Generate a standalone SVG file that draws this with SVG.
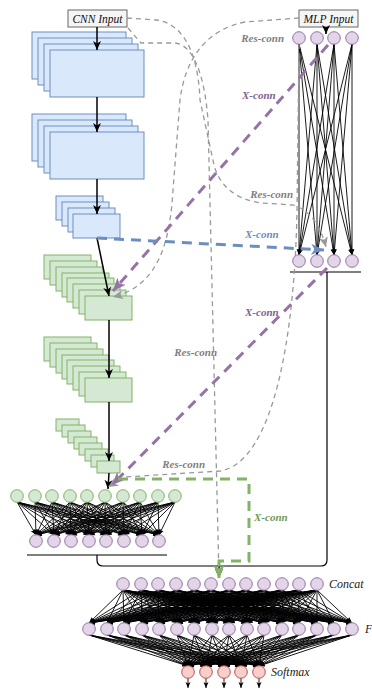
<svg xmlns="http://www.w3.org/2000/svg" width="372" height="689" viewBox="0 0 372 689">
<style>
.bl rect{fill:#dae8fc;stroke:#6c8ebf;stroke-width:1}
.gr rect{fill:#d5e8d4;stroke:#82b366;stroke-width:1}
.inp{fill:#f5f5f5;stroke:#666;stroke-width:1}
.it{font-family:"Liberation Serif",serif;font-style:italic;font-size:11.5px;fill:#111}
.ly{font-family:"Liberation Serif",serif;font-style:italic;font-size:12px;fill:#222}
.lb{font-family:"Liberation Serif",serif;font-style:italic;font-weight:bold;font-size:11px}
.pu circle{fill:#e1d5e7;stroke:#9673a6;stroke-width:1}
.gc circle{fill:#d5e8d4;stroke:#82b366;stroke-width:1}
.rd circle{fill:#f8cecc;stroke:#b85450;stroke-width:1}
.dn path{fill:none;stroke:#000;stroke-width:0.9;marker-end:url(#ms)}
.ar{fill:none;stroke:#000;stroke-width:1.5;marker-end:url(#mb)}
.gd{fill:none;stroke:#999;stroke-width:1.3;stroke-dasharray:5 4;marker-end:url(#mg)}
.px{fill:none;stroke:#9673a6;stroke-width:3;stroke-dasharray:10 7;marker-end:url(#mp)}
.bx{fill:none;stroke:#6c8ebf;stroke-width:3;stroke-dasharray:10 7;marker-end:url(#mbl)}
.gx{fill:none;stroke:#82b366;stroke-width:3;stroke-dasharray:10 7;marker-end:url(#mgr)}
.bus{fill:none;stroke:#000;stroke-width:1.2}
.ul{fill:none;stroke:#555;stroke-width:1.5}
</style>
<defs>
<marker id="ms" markerUnits="userSpaceOnUse" markerWidth="7" markerHeight="6" refX="6" refY="3" orient="auto"><path d="M0,0.5L6,3L0,5.5L1.5,3z" fill="#000" stroke="none"/></marker>
<marker id="mb" markerUnits="userSpaceOnUse" markerWidth="10" markerHeight="9" refX="9" refY="4.5" orient="auto"><path d="M0,0.5L9,4.5L0,8.5L2.5,4.5z" fill="#000" stroke="none"/></marker>
<marker id="mg" markerUnits="userSpaceOnUse" markerWidth="11" markerHeight="10" refX="10" refY="5" orient="auto"><path d="M0,0.5L10,5L0,9.5L2.5,5z" fill="#999" stroke="none"/></marker>
<marker id="mp" markerUnits="userSpaceOnUse" markerWidth="14" markerHeight="12" refX="13" refY="6" orient="auto"><path d="M0,0.5L13,6L0,11.5L3.5,6z" fill="#9673a6" stroke="none"/></marker>
<marker id="mbl" markerUnits="userSpaceOnUse" markerWidth="14" markerHeight="12" refX="13" refY="6" orient="auto"><path d="M0,0.5L13,6L0,11.5L3.5,6z" fill="#6c8ebf" stroke="none"/></marker>
<marker id="mgr" markerUnits="userSpaceOnUse" markerWidth="14" markerHeight="12" refX="13" refY="6" orient="auto"><path d="M0,0.5L13,6L0,11.5L3.5,6z" fill="#82b366" stroke="none"/></marker>
</defs>
<rect width="372" height="689" fill="#fff"/>

<g id="cnn-input"><rect class="inp" x="68" y="10" width="59" height="17"/><text class="it" x="97.5" y="22.5" text-anchor="middle">CNN Input</text></g>
<g id="mlp-input"><rect class="inp" x="299" y="10" width="59" height="17"/><text class="it" x="328.5" y="22.5" text-anchor="middle">MLP Input</text></g>

<g id="conv1" class="bl"><rect x="32" y="32" width="94" height="47"/><rect x="38" y="38" width="94" height="47"/><rect x="44" y="44" width="94" height="47"/><rect x="50" y="50" width="94" height="47"/></g>
<g id="conv2" class="bl"><rect x="32" y="114" width="94" height="47"/><rect x="38" y="120" width="94" height="47"/><rect x="44" y="126" width="94" height="47"/><rect x="50" y="132" width="94" height="47"/></g>
<g id="conv3" class="bl"><rect x="56" y="196" width="47" height="24"/><rect x="62" y="202" width="47" height="24"/><rect x="68" y="208" width="47" height="24"/><rect x="73" y="214" width="47" height="24"/></g>
<g id="conv4" class="gr"><rect x="44" y="255" width="47" height="24"/><rect x="50" y="261" width="47" height="24"/><rect x="56" y="267" width="47" height="24"/><rect x="62" y="273" width="47" height="24"/><rect x="67" y="278" width="47" height="24"/><rect x="73" y="284" width="47" height="24"/><rect x="79" y="290" width="47" height="24"/><rect x="85" y="296" width="47" height="24"/></g>
<g id="conv5" class="gr"><rect x="44" y="337" width="47" height="24"/><rect x="50" y="343" width="47" height="24"/><rect x="56" y="349" width="47" height="24"/><rect x="62" y="355" width="47" height="24"/><rect x="67" y="360" width="47" height="24"/><rect x="73" y="366" width="47" height="24"/><rect x="79" y="372" width="47" height="24"/><rect x="85" y="378" width="47" height="24"/></g>
<g id="conv6" class="gr"><rect x="56" y="419" width="23" height="12"/><rect x="62" y="425" width="23" height="12"/><rect x="68" y="431" width="23" height="12"/><rect x="74" y="437" width="23" height="12"/><rect x="79" y="443" width="23" height="12"/><rect x="85" y="449" width="23" height="12"/><rect x="91" y="455" width="23" height="12"/><rect x="97" y="461" width="23" height="12"/></g>

<g id="connectors">
<g class="dn">
<path d="M299 44L299 255"/><path d="M299 44L317 255"/><path d="M299 44L334 255"/><path d="M299 44L352 255"/>
<path d="M317 44L299 255"/><path d="M317 44L317 255"/><path d="M317 44L334 255"/><path d="M317 44L352 255"/>
<path d="M334 44L299 255"/><path d="M334 44L317 255"/><path d="M334 44L334 255"/><path d="M334 44L352 255"/>
<path d="M352 44L299 255"/><path d="M352 44L317 255"/><path d="M352 44L334 255"/><path d="M352 44L352 255"/>

<path d="M17 502L36 535"/><path d="M17 502L54 535"/><path d="M17 502L71 535"/><path d="M17 502L89 535"/><path d="M17 502L106 535"/><path d="M17 502L124 535"/><path d="M17 502L142 535"/><path d="M17 502L159 535"/>
<path d="M35 502L36 535"/><path d="M35 502L54 535"/><path d="M35 502L71 535"/><path d="M35 502L89 535"/><path d="M35 502L106 535"/><path d="M35 502L124 535"/><path d="M35 502L142 535"/><path d="M35 502L159 535"/>
<path d="M52 502L36 535"/><path d="M52 502L54 535"/><path d="M52 502L71 535"/><path d="M52 502L89 535"/><path d="M52 502L106 535"/><path d="M52 502L124 535"/><path d="M52 502L142 535"/><path d="M52 502L159 535"/>
<path d="M70 502L36 535"/><path d="M70 502L54 535"/><path d="M70 502L71 535"/><path d="M70 502L89 535"/><path d="M70 502L106 535"/><path d="M70 502L124 535"/><path d="M70 502L142 535"/><path d="M70 502L159 535"/>
<path d="M87 502L36 535"/><path d="M87 502L54 535"/><path d="M87 502L71 535"/><path d="M87 502L89 535"/><path d="M87 502L106 535"/><path d="M87 502L124 535"/><path d="M87 502L142 535"/><path d="M87 502L159 535"/>
<path d="M105 502L36 535"/><path d="M105 502L54 535"/><path d="M105 502L71 535"/><path d="M105 502L89 535"/><path d="M105 502L106 535"/><path d="M105 502L124 535"/><path d="M105 502L142 535"/><path d="M105 502L159 535"/>
<path d="M123 502L36 535"/><path d="M123 502L54 535"/><path d="M123 502L71 535"/><path d="M123 502L89 535"/><path d="M123 502L106 535"/><path d="M123 502L124 535"/><path d="M123 502L142 535"/><path d="M123 502L159 535"/>
<path d="M140 502L36 535"/><path d="M140 502L54 535"/><path d="M140 502L71 535"/><path d="M140 502L89 535"/><path d="M140 502L106 535"/><path d="M140 502L124 535"/><path d="M140 502L142 535"/><path d="M140 502L159 535"/>
<path d="M158 502L36 535"/><path d="M158 502L54 535"/><path d="M158 502L71 535"/><path d="M158 502L89 535"/><path d="M158 502L106 535"/><path d="M158 502L124 535"/><path d="M158 502L142 535"/><path d="M158 502L159 535"/>
<path d="M175 502L36 535"/><path d="M175 502L54 535"/><path d="M175 502L71 535"/><path d="M175 502L89 535"/><path d="M175 502L106 535"/><path d="M175 502L124 535"/><path d="M175 502L142 535"/><path d="M175 502L159 535"/>

<path d="M123 590L89 623"/><path d="M123 590L107 623"/><path d="M123 590L124 623"/><path d="M123 590L142 623"/><path d="M123 590L159 623"/><path d="M123 590L177 623"/><path d="M123 590L194 623"/><path d="M123 590L212 623"/><path d="M123 590L229 623"/><path d="M123 590L247 623"/><path d="M123 590L264 623"/><path d="M123 590L282 623"/><path d="M123 590L299 623"/><path d="M123 590L317 623"/><path d="M123 590L334 623"/><path d="M123 590L352 623"/>
<path d="M141 590L89 623"/><path d="M141 590L107 623"/><path d="M141 590L124 623"/><path d="M141 590L142 623"/><path d="M141 590L159 623"/><path d="M141 590L177 623"/><path d="M141 590L194 623"/><path d="M141 590L212 623"/><path d="M141 590L229 623"/><path d="M141 590L247 623"/><path d="M141 590L264 623"/><path d="M141 590L282 623"/><path d="M141 590L299 623"/><path d="M141 590L317 623"/><path d="M141 590L334 623"/><path d="M141 590L352 623"/>
<path d="M158 590L89 623"/><path d="M158 590L107 623"/><path d="M158 590L124 623"/><path d="M158 590L142 623"/><path d="M158 590L159 623"/><path d="M158 590L177 623"/><path d="M158 590L194 623"/><path d="M158 590L212 623"/><path d="M158 590L229 623"/><path d="M158 590L247 623"/><path d="M158 590L264 623"/><path d="M158 590L282 623"/><path d="M158 590L299 623"/><path d="M158 590L317 623"/><path d="M158 590L334 623"/><path d="M158 590L352 623"/>
<path d="M176 590L89 623"/><path d="M176 590L107 623"/><path d="M176 590L124 623"/><path d="M176 590L142 623"/><path d="M176 590L159 623"/><path d="M176 590L177 623"/><path d="M176 590L194 623"/><path d="M176 590L212 623"/><path d="M176 590L229 623"/><path d="M176 590L247 623"/><path d="M176 590L264 623"/><path d="M176 590L282 623"/><path d="M176 590L299 623"/><path d="M176 590L317 623"/><path d="M176 590L334 623"/><path d="M176 590L352 623"/>
<path d="M194 590L89 623"/><path d="M194 590L107 623"/><path d="M194 590L124 623"/><path d="M194 590L142 623"/><path d="M194 590L159 623"/><path d="M194 590L177 623"/><path d="M194 590L194 623"/><path d="M194 590L212 623"/><path d="M194 590L229 623"/><path d="M194 590L247 623"/><path d="M194 590L264 623"/><path d="M194 590L282 623"/><path d="M194 590L299 623"/><path d="M194 590L317 623"/><path d="M194 590L334 623"/><path d="M194 590L352 623"/>
<path d="M211 590L89 623"/><path d="M211 590L107 623"/><path d="M211 590L124 623"/><path d="M211 590L142 623"/><path d="M211 590L159 623"/><path d="M211 590L177 623"/><path d="M211 590L194 623"/><path d="M211 590L212 623"/><path d="M211 590L229 623"/><path d="M211 590L247 623"/><path d="M211 590L264 623"/><path d="M211 590L282 623"/><path d="M211 590L299 623"/><path d="M211 590L317 623"/><path d="M211 590L334 623"/><path d="M211 590L352 623"/>
<path d="M229 590L89 623"/><path d="M229 590L107 623"/><path d="M229 590L124 623"/><path d="M229 590L142 623"/><path d="M229 590L159 623"/><path d="M229 590L177 623"/><path d="M229 590L194 623"/><path d="M229 590L212 623"/><path d="M229 590L229 623"/><path d="M229 590L247 623"/><path d="M229 590L264 623"/><path d="M229 590L282 623"/><path d="M229 590L299 623"/><path d="M229 590L317 623"/><path d="M229 590L334 623"/><path d="M229 590L352 623"/>
<path d="M246 590L89 623"/><path d="M246 590L107 623"/><path d="M246 590L124 623"/><path d="M246 590L142 623"/><path d="M246 590L159 623"/><path d="M246 590L177 623"/><path d="M246 590L194 623"/><path d="M246 590L212 623"/><path d="M246 590L229 623"/><path d="M246 590L247 623"/><path d="M246 590L264 623"/><path d="M246 590L282 623"/><path d="M246 590L299 623"/><path d="M246 590L317 623"/><path d="M246 590L334 623"/><path d="M246 590L352 623"/>
<path d="M264 590L89 623"/><path d="M264 590L107 623"/><path d="M264 590L124 623"/><path d="M264 590L142 623"/><path d="M264 590L159 623"/><path d="M264 590L177 623"/><path d="M264 590L194 623"/><path d="M264 590L212 623"/><path d="M264 590L229 623"/><path d="M264 590L247 623"/><path d="M264 590L264 623"/><path d="M264 590L282 623"/><path d="M264 590L299 623"/><path d="M264 590L317 623"/><path d="M264 590L334 623"/><path d="M264 590L352 623"/>
<path d="M282 590L89 623"/><path d="M282 590L107 623"/><path d="M282 590L124 623"/><path d="M282 590L142 623"/><path d="M282 590L159 623"/><path d="M282 590L177 623"/><path d="M282 590L194 623"/><path d="M282 590L212 623"/><path d="M282 590L229 623"/><path d="M282 590L247 623"/><path d="M282 590L264 623"/><path d="M282 590L282 623"/><path d="M282 590L299 623"/><path d="M282 590L317 623"/><path d="M282 590L334 623"/><path d="M282 590L352 623"/>
<path d="M299 590L89 623"/><path d="M299 590L107 623"/><path d="M299 590L124 623"/><path d="M299 590L142 623"/><path d="M299 590L159 623"/><path d="M299 590L177 623"/><path d="M299 590L194 623"/><path d="M299 590L212 623"/><path d="M299 590L229 623"/><path d="M299 590L247 623"/><path d="M299 590L264 623"/><path d="M299 590L282 623"/><path d="M299 590L299 623"/><path d="M299 590L317 623"/><path d="M299 590L334 623"/><path d="M299 590L352 623"/>
<path d="M317 590L89 623"/><path d="M317 590L107 623"/><path d="M317 590L124 623"/><path d="M317 590L142 623"/><path d="M317 590L159 623"/><path d="M317 590L177 623"/><path d="M317 590L194 623"/><path d="M317 590L212 623"/><path d="M317 590L229 623"/><path d="M317 590L247 623"/><path d="M317 590L264 623"/><path d="M317 590L282 623"/><path d="M317 590L299 623"/><path d="M317 590L317 623"/><path d="M317 590L334 623"/><path d="M317 590L352 623"/>

<path d="M89 635L188 666"/><path d="M89 635L206 666"/><path d="M89 635L224 666"/><path d="M89 635L241 666"/><path d="M89 635L259 666"/>
<path d="M107 635L188 666"/><path d="M107 635L206 666"/><path d="M107 635L224 666"/><path d="M107 635L241 666"/><path d="M107 635L259 666"/>
<path d="M124 635L188 666"/><path d="M124 635L206 666"/><path d="M124 635L224 666"/><path d="M124 635L241 666"/><path d="M124 635L259 666"/>
<path d="M142 635L188 666"/><path d="M142 635L206 666"/><path d="M142 635L224 666"/><path d="M142 635L241 666"/><path d="M142 635L259 666"/>
<path d="M159 635L188 666"/><path d="M159 635L206 666"/><path d="M159 635L224 666"/><path d="M159 635L241 666"/><path d="M159 635L259 666"/>
<path d="M177 635L188 666"/><path d="M177 635L206 666"/><path d="M177 635L224 666"/><path d="M177 635L241 666"/><path d="M177 635L259 666"/>
<path d="M194 635L188 666"/><path d="M194 635L206 666"/><path d="M194 635L224 666"/><path d="M194 635L241 666"/><path d="M194 635L259 666"/>
<path d="M212 635L188 666"/><path d="M212 635L206 666"/><path d="M212 635L224 666"/><path d="M212 635L241 666"/><path d="M212 635L259 666"/>
<path d="M229 635L188 666"/><path d="M229 635L206 666"/><path d="M229 635L224 666"/><path d="M229 635L241 666"/><path d="M229 635L259 666"/>
<path d="M247 635L188 666"/><path d="M247 635L206 666"/><path d="M247 635L224 666"/><path d="M247 635L241 666"/><path d="M247 635L259 666"/>
<path d="M264 635L188 666"/><path d="M264 635L206 666"/><path d="M264 635L224 666"/><path d="M264 635L241 666"/><path d="M264 635L259 666"/>
<path d="M282 635L188 666"/><path d="M282 635L206 666"/><path d="M282 635L224 666"/><path d="M282 635L241 666"/><path d="M282 635L259 666"/>
<path d="M299 635L188 666"/><path d="M299 635L206 666"/><path d="M299 635L224 666"/><path d="M299 635L241 666"/><path d="M299 635L259 666"/>
<path d="M317 635L188 666"/><path d="M317 635L206 666"/><path d="M317 635L224 666"/><path d="M317 635L241 666"/><path d="M317 635L259 666"/>
<path d="M334 635L188 666"/><path d="M334 635L206 666"/><path d="M334 635L224 666"/><path d="M334 635L241 666"/><path d="M334 635L259 666"/>
<path d="M352 635L188 666"/><path d="M352 635L206 666"/><path d="M352 635L224 666"/><path d="M352 635L241 666"/><path d="M352 635L259 666"/>

<path d="M188 678L188 688"/><path d="M206 678L206 688"/><path d="M224 678L224 688"/><path d="M241 678L241 688"/><path d="M259 678L259 688"/>
</g>

<path class="ar" d="M97 27L97 50"/>
<path class="ar" d="M97 97L97 132"/>
<path class="ar" d="M97 179L97 214"/>
<path class="ar" d="M97 238L109 296"/>
<path class="ar" d="M109 320L109 378"/>
<path class="ar" d="M109 402L109 461"/>
<path class="ar" d="M109 473L108 489"/>
<path class="ar" d="M326 27L326 34"/>

<path class="ul" d="M290 272L361 272"/>
<path class="ul" d="M27 555L167 555"/>
<path class="bus" d="M327 272L327 560Q327 566 321 566L103 566Q97 566 97 560L97 555"/>
<path class="ar" d="M219 566L219 578"/>

<path class="gd" d="M127 18L157 20C182 24 198 50 200 100L214 165C220 188 238 200 262 203L293 205C310 210 320 225 326 247"/>
<path class="gd" d="M128 28L141 43L175 43C195 45 205 80 208 120L219 577"/>
<path class="gd" d="M299 18L245 22C205 30 185 60 180 100L173 190C170 240 160 285 113 297"/>
<path class="gd" d="M299 44L297 210C295 330 275 462 220 471L125 477L108 487"/>

<path class="px" d="M328 45L113 291"/>
<path class="bx" d="M97 238L324 250"/>
<path class="px" d="M327 268L112 485"/>
<path class="gx" d="M118 479L249 479L249 561L219 561L219 578"/>
</g>

<g id="mlp-top" class="pu"><circle cx="299" cy="38" r="6.3"/><circle cx="317" cy="38" r="6.3"/><circle cx="334" cy="38" r="6.3"/><circle cx="352" cy="38" r="6.3"/></g>
<g id="mlp-bottom" class="pu"><circle cx="299" cy="261" r="6.3"/><circle cx="317" cy="261" r="6.3"/><circle cx="334" cy="261" r="6.3"/><circle cx="352" cy="261" r="6.3"/></g>
<g id="cnn-fc-in" class="gc"><circle cx="17" cy="496" r="6.3"/><circle cx="35" cy="496" r="6.3"/><circle cx="52" cy="496" r="6.3"/><circle cx="70" cy="496" r="6.3"/><circle cx="87" cy="496" r="6.3"/><circle cx="105" cy="496" r="6.3"/><circle cx="123" cy="496" r="6.3"/><circle cx="140" cy="496" r="6.3"/><circle cx="158" cy="496" r="6.3"/><circle cx="175" cy="496" r="6.3"/></g>
<g id="cnn-fc-out" class="pu"><circle cx="36" cy="541" r="6.3"/><circle cx="54" cy="541" r="6.3"/><circle cx="71" cy="541" r="6.3"/><circle cx="89" cy="541" r="6.3"/><circle cx="106" cy="541" r="6.3"/><circle cx="124" cy="541" r="6.3"/><circle cx="142" cy="541" r="6.3"/><circle cx="159" cy="541" r="6.3"/></g>
<g id="concat" class="pu"><circle cx="123" cy="584" r="6.3"/><circle cx="141" cy="584" r="6.3"/><circle cx="158" cy="584" r="6.3"/><circle cx="176" cy="584" r="6.3"/><circle cx="194" cy="584" r="6.3"/><circle cx="211" cy="584" r="6.3"/><circle cx="229" cy="584" r="6.3"/><circle cx="246" cy="584" r="6.3"/><circle cx="264" cy="584" r="6.3"/><circle cx="282" cy="584" r="6.3"/><circle cx="299" cy="584" r="6.3"/><circle cx="317" cy="584" r="6.3"/><text class="ly" x="329" y="588">Concat</text></g>
<g id="f" class="pu"><circle cx="89" cy="629" r="6.3"/><circle cx="107" cy="629" r="6.3"/><circle cx="124" cy="629" r="6.3"/><circle cx="142" cy="629" r="6.3"/><circle cx="159" cy="629" r="6.3"/><circle cx="177" cy="629" r="6.3"/><circle cx="194" cy="629" r="6.3"/><circle cx="212" cy="629" r="6.3"/><circle cx="229" cy="629" r="6.3"/><circle cx="247" cy="629" r="6.3"/><circle cx="264" cy="629" r="6.3"/><circle cx="282" cy="629" r="6.3"/><circle cx="299" cy="629" r="6.3"/><circle cx="317" cy="629" r="6.3"/><circle cx="334" cy="629" r="6.3"/><circle cx="352" cy="629" r="6.3"/><text class="ly" x="365" y="633">F</text></g>
<g id="softmax" class="rd"><circle cx="188" cy="672" r="6.3"/><circle cx="206" cy="672" r="6.3"/><circle cx="224" cy="672" r="6.3"/><circle cx="241" cy="672" r="6.3"/><circle cx="259" cy="672" r="6.3"/><text class="ly" x="271" y="676">Softmax</text></g>

<g id="labels">
<text class="lb" x="284" y="42" text-anchor="end" fill="#808080">Res-conn</text>
<text class="lb" x="293" y="198" text-anchor="end" fill="#808080">Res-conn</text>
<text class="lb" x="217" y="356" text-anchor="end" fill="#808080">Res-conn</text>
<text class="lb" x="205" y="468" text-anchor="end" fill="#808080">Res-conn</text>
<text class="lb" x="242" y="99" fill="#7d6390">X-conn</text>
<text class="lb" x="245" y="238" fill="#6c8ebf">X-conn</text>
<text class="lb" x="245" y="316" fill="#7d6390">X-conn</text>
<text class="lb" x="254" y="521" fill="#6d9a56">X-conn</text>
</g>
</svg>
